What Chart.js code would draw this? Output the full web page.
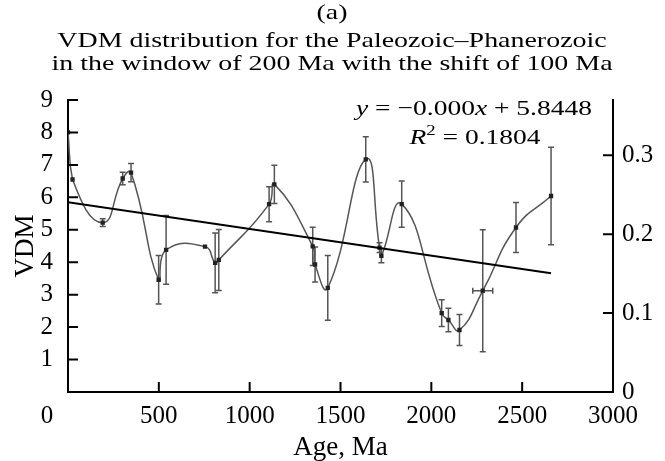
<!DOCTYPE html>
<html>
<head>
<meta charset="utf-8">
<script src="https://cdn.jsdelivr.net/npm/chart.js@4.4.1/dist/chart.umd.min.js"></script>
<style>
  html, body { margin: 0; padding: 0; background: #fff; }
  #wrap { width: 665px; height: 461px; }
</style>
</head>
<body>
<div id="wrap"><canvas id="chart" width="665" height="461"></canvas></div>
<script>
// values
const ages   = [0, 25, 191, 301, 347, 499, 540, 754, 810, 830, 1107, 1136, 1347, 1360, 1430, 1639, 1715, 1725, 1837, 2057, 2094, 2155, 2283, 2466, 2659];
const vdm    = [8.0, 6.55, 5.22, 6.58, 6.76, 3.46, 4.38, 4.48, 3.98, 4.07, 5.79, 6.40, 4.49, 3.93, 3.21, 7.17, 4.45, 4.2, 5.79, 2.43, 2.22, 1.91, 3.12, 5.07, 6.04];
const vdmErr = [0, 0, 0.12, 0.19, 0.28, 0.75, 1.06, 0, 0.92, 0.94, 0.54, 0.59, 0.59, 0.54, 1.0, 0.7, 0.15, 0.22, 0.71, 0.41, 0.36, 0.48, 1.88, 0.77, 1.5];
const ageErr = [0, 0, 0, 0, 0, 0, 0, 0, 0, 0, 0, 0, 0, 0, 0, 0, 0, 0, 0, 0, 0, 0, 55, 0, 0];
const trendAges = [0, 2659];
const trendVdm  = [5.85, 3.66];

const titleLines = ['(a)', 'VDM distribution for the Paleozoic\u2013Phanerozoic', 'in the window of 200 Ma with the shift of 100 Ma'];
const serif = '"Liberation Serif", "Times New Roman", serif';

function drawRuns(ctx, runs, cx, cy, size, sx) {
  let total = 0;
  runs.forEach(r => {
    ctx.font = (r.italic ? 'italic ' : '') + (r.size || size) + 'px ' + serif;
    r.w = ctx.measureText(r.t).width;
    total += r.w;
  });
  ctx.save();
  ctx.translate(cx, cy);
  ctx.scale(sx, 1);
  ctx.textAlign = 'left';
  ctx.textBaseline = 'middle';
  ctx.fillStyle = '#000';
  let x = -total / 2;
  runs.forEach(r => {
    ctx.font = (r.italic ? 'italic ' : '') + (r.size || size) + 'px ' + serif;
    ctx.fillText(r.t, x, r.dy || 0);
    x += r.w;
  });
  ctx.restore();
}

const errorBars = {
  id: 'errorBars',
  beforeDatasetsDraw(chart) {
    const {ctx, scales: {x, y}} = chart;
    ctx.save();
    ctx.strokeStyle = '#555';
    ctx.lineWidth = 1.5;
    ages.forEach((a, i) => {
      const px = x.getPixelForValue(a);
      if (vdmErr[i] > 0) {
        const y1 = y.getPixelForValue(vdm[i] + vdmErr[i]);
        const y2 = y.getPixelForValue(vdm[i] - vdmErr[i]);
        ctx.beginPath();
        ctx.moveTo(px, y1); ctx.lineTo(px, y2);
        ctx.moveTo(px - 3, y1); ctx.lineTo(px + 3, y1);
        ctx.moveTo(px - 3, y2); ctx.lineTo(px + 3, y2);
        ctx.stroke();
      }
      if (ageErr[i] > 0) {
        const py = y.getPixelForValue(vdm[i]);
        const x1 = x.getPixelForValue(a - ageErr[i]);
        const x2 = x.getPixelForValue(a + ageErr[i]);
        ctx.beginPath();
        ctx.moveTo(x1, py); ctx.lineTo(x2, py);
        ctx.moveTo(x1, py - 3); ctx.lineTo(x1, py + 3);
        ctx.moveTo(x2, py - 3); ctx.lineTo(x2, py + 3);
        ctx.stroke();
      }
    });
    ctx.restore();
  }
};

const innerTicks = {
  id: 'innerTicks',
  afterDraw(chart) {
    const {ctx, chartArea: area, scales: {x, y, y2}} = chart;
    ctx.save();
    ctx.strokeStyle = '#000';
    ctx.lineWidth = 2;
    ctx.beginPath();
    x.ticks.forEach(t => {
      if (t.value <= 0 || t.value >= 3000) return;
      const px = x.getPixelForValue(t.value);
      ctx.moveTo(px, area.bottom); ctx.lineTo(px, area.bottom - 10);
    });
    y.ticks.forEach(t => {
      if (t.value <= 0) return;
      const py = y.getPixelForValue(t.value);
      ctx.moveTo(area.left, py); ctx.lineTo(area.left + 10, py);
    });
    y2.ticks.forEach(t => {
      if (t.value <= 0) return;
      const py = y2.getPixelForValue(t.value);
      ctx.moveTo(area.right, py); ctx.lineTo(area.right - 10, py);
    });
    ctx.stroke();

    // the stray "0" of the age axis sits left of the corner
    ctx.fillStyle = '#000';
    ctx.font = '25px ' + serif;
    ctx.textAlign = 'center';
    ctx.textBaseline = 'middle';
    ctx.fillText('0', area.left - 21, area.bottom + 24);

    // title
    drawRuns(ctx, [{t: titleLines[0]}], 332, 13, 22, 1.27);
    drawRuns(ctx, [{t: titleLines[1]}], 332, 41, 22, 1.27);
    drawRuns(ctx, [{t: titleLines[2]}], 332, 64, 22, 1.27);

    // trend equation
    drawRuns(ctx, [{t: 'y', italic: true}, {t: ' = \u22120.000'}, {t: 'x', italic: true}, {t: ' + 5.8448'}], 474, 109, 22, 1.25);
    drawRuns(ctx, [{t: 'R', italic: true}, {t: '2', size: 15, dy: -7}, {t: ' = 0.1804'}], 475, 138, 22, 1.25);
    ctx.restore();
  }
};

new Chart(document.getElementById('chart'), {
  type: 'scatter',
  data: {
    datasets: [
      {
        label: 'VDM',
        data: ages.map((a, i) => ({x: a, y: vdm[i]})),
        showLine: true,
        tension: 0.5,
        borderColor: '#555',
        borderWidth: 1.5,
        pointStyle: 'rect',
        pointRadius: 2,
        pointBackgroundColor: '#222',
        pointBorderColor: '#222',
        order: 2
      },
      {
        label: 'Trend',
        data: trendAges.map((a, i) => ({x: a, y: trendVdm[i]})),
        showLine: true,
        borderColor: '#000',
        borderWidth: 2,
        pointRadius: 0,
        order: 1
      }
    ]
  },
  options: {
    responsive: false,
    animation: false,
    devicePixelRatio: 1,
    layout: {padding: {top: 100, left: 0, right: 0, bottom: 0}},
    plugins: {
      legend: {display: false},
      title: {display: false},
      tooltip: {enabled: false}
    },
    scales: {
      x: {
        type: 'linear',
        min: 0,
        max: 3000,
        grid: {display: false, drawTicks: false},
        border: {display: true, color: '#000', width: 2},
        ticks: {
          stepSize: 500,
          autoSkip: false,
          padding: 9,
          color: '#000',
          font: {family: serif, size: 25},
          maxRotation: 0,
          callback: v => (v === 0 ? '' : v)
        },
        title: {
          display: true,
          text: 'Age, Ma',
          color: '#000',
          font: {family: serif, size: 27, lineHeight: 1},
          padding: {top: 0, bottom: 0}
        },
        afterFit: s => { s.height = 69; }
      },
      y: {
        position: 'left',
        min: 0,
        max: 9,
        grid: {display: false, drawTicks: false},
        border: {display: true, color: '#000', width: 2},
        ticks: {
          stepSize: 1,
          autoSkip: false,
          padding: 15,
          color: '#000',
          font: {family: serif, size: 25},
          callback: v => (v === 0 ? '' : v)
        },
        title: {
          display: true,
          text: 'VDM',
          color: '#000',
          font: {family: serif, size: 27, lineHeight: 1},
          padding: {top: 12, bottom: 0}
        },
        afterFit: s => { s.width = 68; }
      },
      y2: {
        position: 'right',
        min: 0,
        max: 0.37,
        grid: {display: false, drawTicks: false},
        border: {display: true, color: '#000', width: 2},
        afterBuildTicks: s => {
          s.ticks = s.ticks.filter(t => Math.abs(t.value * 10 - Math.round(t.value * 10)) < 1e-6);
        },
        ticks: {
          stepSize: 0.1,
          autoSkip: false,
          padding: 9,
          color: '#000',
          font: {family: serif, size: 25},
          callback: v => (Math.round(v * 10) / 10).toString()
        },
        afterFit: s => { s.width = 52; }
      }
    }
  },
  plugins: [errorBars, innerTicks]
});
</script>
</body>
</html>
